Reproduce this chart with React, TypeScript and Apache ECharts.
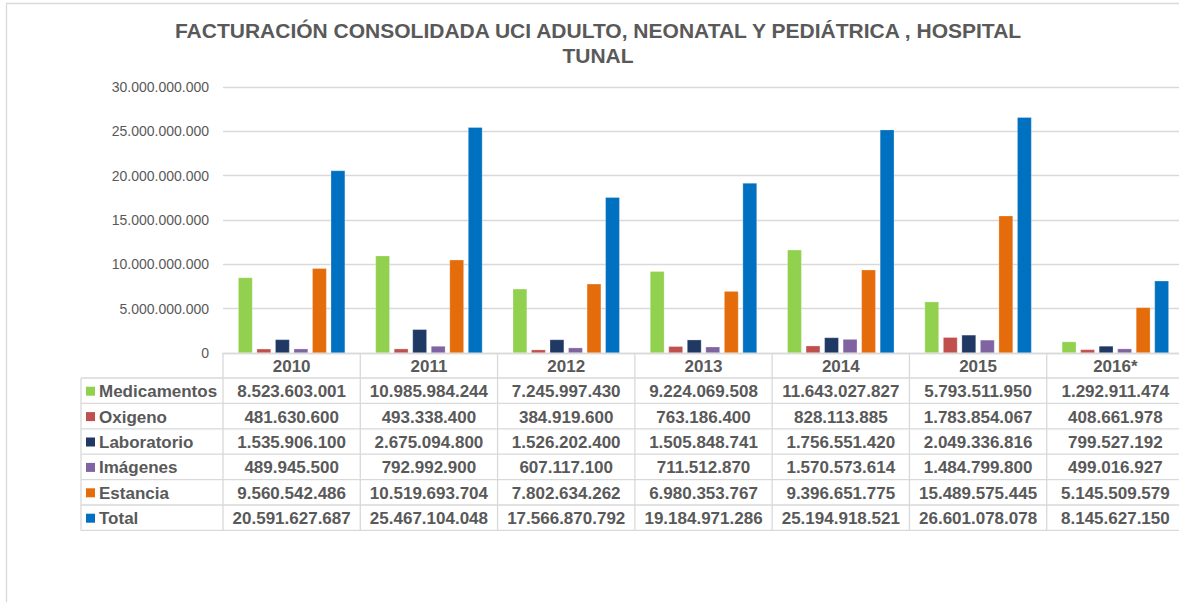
import React, { useEffect, useRef } from "react";
import * as echarts from "echarts";

const categories = ["2010", "2011", "2012", "2013", "2014", "2015", "2016*"];
const seriesNames = ["Medicamentos", "Oxigeno", "Laboratorio", "Imágenes", "Estancia", "Total"];
const medicamentos = [8523603001, 10985984244, 7245997430, 9224069508, 11643027827, 5793511950, 1292911474];
const oxigeno = [481630600, 493338400, 384919600, 763186400, 828113885, 1783854067, 408661978];
const laboratorio = [1535906100, 2675094800, 1526202400, 1505848741, 1756551420, 2049336816, 799527192];
const imagenes = [489945500, 792992900, 607117100, 711512870, 1570573614, 1484799800, 499016927];
const estancia = [9560542486, 10519693704, 7802634262, 6980353767, 9396651775, 15489575445, 5145509579];
const total = [20591627687, 25467104048, 17566870792, 19184971286, 25194918521, 26601078078, 8145627150];
const colors = ["#92D050", "#C0504D", "#1F3864", "#8064A2", "#E46C0A", "#0070C0"];
const titleText = "FACTURACIÓN CONSOLIDADA UCI ADULTO, NEONATAL Y PEDIÁTRICA , HOSPITAL\nTUNAL";

const fmt = (n: number) => Math.round(n).toString().replace(/\B(?=(\d{3})+(?!\d))/g, ".");

export default function App() {
  const ref = useRef<HTMLDivElement>(null);
  useEffect(() => {
    if (!ref.current) return;
    const chart = echarts.init(ref.current, null, { renderer: "svg" });
    const allData = [medicamentos, oxigeno, laboratorio, imagenes, estancia, total];
    const font = "'Liberation Sans', Arial, sans-serif";
    const textColor = "#595959";
    const lineColor = "#D9D9D9";
    chart.setOption({
      animation: false,
      backgroundColor: "#fff",
      title: {
        text: titleText,
        left: 593,
        top: 13,
        textAlign: "center",
        textStyle: { fontFamily: font, fontSize: 21, fontWeight: "bold", color: textColor, lineHeight: 25 },
      },
      grid: { left: 223, right: 16, top: 87, bottom: 249, containLabel: false },
      xAxis: {
        type: "category",
        data: categories,
        axisLine: { show: true, lineStyle: { color: lineColor, width: 1.3 } },
        axisTick: { show: false },
        axisLabel: { show: false },
      },
      yAxis: {
        type: "value",
        min: 0,
        max: 30000000000,
        interval: 5000000000,
        axisLine: { show: false },
        axisTick: { show: false },
        splitLine: { lineStyle: { color: lineColor, width: 1.3 } },
        axisLabel: { formatter: (v: number) => fmt(v), color: textColor, fontSize: 14, fontFamily: font, margin: 14 },
      },
      series: seriesNames.map((name, i) => ({
        name,
        type: "bar",
        data: allData[i],
        barGap: "28%",
        barCategoryGap: "22%",
        itemStyle: { color: colors[i], borderColor: "rgba(255,255,255,0.45)", borderWidth: 0.6 },
      })),
    });

    const c0 = chart.convertToPixel({ xAxisIndex: 0 }, 0) as number;
    const c1 = chart.convertToPixel({ xAxisIndex: 0 }, 1) as number;
    const bw = c1 - c0;
    const left0 = c0 - bw / 2;
    const right = left0 + bw * categories.length;
    const yTop = chart.convertToPixel({ yAxisIndex: 0 }, 0) as number;
    const headerH = 25;
    const rowH = 25.4;
    const tableLeft = 81;
    const rowsTop = yTop + headerH;
    const tableBottom = rowsTop + rowH * seriesNames.length;
    const g: any[] = [];
    const ls = { stroke: lineColor, lineWidth: 1.3 };
    g.push({ type: "rect", shape: { x: 6.5, y: 3.5, width: 1300, height: 800 }, style: { fill: "none", stroke: lineColor, lineWidth: 1.3 }, silent: true });
    for (let r = 0; r <= seriesNames.length; r++) {
      const y = rowsTop + r * rowH;
      g.push({ type: "line", shape: { x1: tableLeft, y1: y, x2: right, y2: y }, style: ls, silent: true });
    }
    g.push({ type: "line", shape: { x1: tableLeft, y1: rowsTop, x2: tableLeft, y2: tableBottom }, style: ls, silent: true });
    for (let k = 0; k <= categories.length; k++) {
      const x = left0 + k * bw;
      g.push({ type: "line", shape: { x1: x, y1: yTop, x2: x, y2: tableBottom }, style: ls, silent: true });
    }
    const ts = (extra: any) => ({ fontFamily: font, fontSize: 17, fontWeight: "bold", fill: textColor, verticalAlign: "middle", ...extra });
    categories.forEach((cat, k) => {
      g.push({ type: "text", x: left0 + (k + 0.5) * bw, y: yTop + headerH / 2 + 1, style: ts({ text: cat, align: "center" }), silent: true });
    });
    seriesNames.forEach((name, r) => {
      const cy = rowsTop + (r + 0.5) * rowH + 1;
      g.push({ type: "rect", shape: { x: 86, y: cy - 5, width: 9, height: 9 }, style: { fill: colors[r] }, silent: true });
      g.push({ type: "text", x: 99, y: cy, style: ts({ text: name, align: "left" }), silent: true });
      allData[r].forEach((v, k) => {
        g.push({ type: "text", x: left0 + (k + 0.5) * bw, y: cy, style: ts({ text: fmt(v), align: "center" }), silent: true });
      });
    });
    chart.setOption({ graphic: g });
    return () => chart.dispose();
  }, []);
  return (
    <div style={{ position: "absolute", left: 0, top: 0, width: 1179, height: 602, overflow: "hidden", background: "#fff" }}>
      <div ref={ref} style={{ width: 1200, height: 602 }} />
    </div>
  );
}
